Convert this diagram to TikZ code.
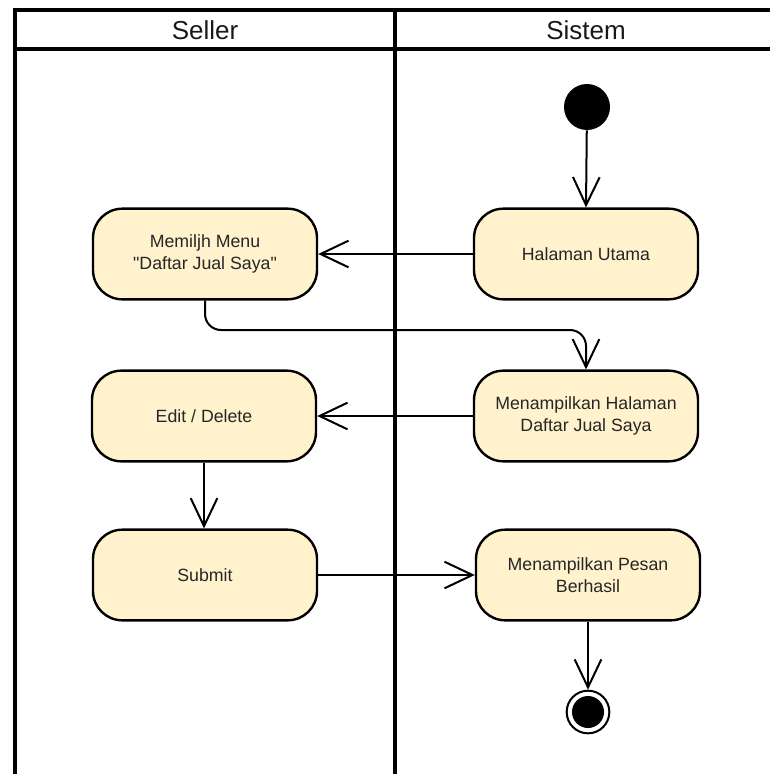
\documentclass[tikz,border=0pt]{standalone}
\usepackage{fontspec}
\setmainfont{Liberation Sans}
\usetikzlibrary{arrows.meta,calc}

\definecolor{actfill}{HTML}{FFF2CC}

\tikzset{
  lane/.style={line width=3pt, line cap=rect},
  lanetitle/.style={font=\fontsize{19.5pt}{22pt}\selectfont, text=black!90},
  activity/.style={draw=black, line width=1.8pt, fill=actfill, rounded corners=22pt,
    minimum width=168pt, minimum height=68pt, align=center, inner sep=2pt,
    font=\fontsize{13.3pt}{16pt}\selectfont, text=black!85},
  flow/.style={draw=black, line width=1.5pt,
    -{Straight Barb[length=21pt, width=20pt, line width=1.5pt]}},
  startnode/.style={circle, fill=black, minimum size=34.5pt, inner sep=0pt},
  endring/.style={circle, draw=black, line width=1.5pt, fill=white, minimum size=32pt, inner sep=0pt},
  endcore/.style={circle, fill=black, minimum size=24pt, inner sep=0pt},
}

\begin{document}
\begin{tikzpicture}[x=0.75pt, y=-0.75pt]
  \useasboundingbox (0,0) rectangle (770,774);

  % swimlane frame
  \draw[lane] (15,10) -- (772,10);
  \draw[lane] (15,49) -- (772,49);
  \draw[lane] (15,10) -- (15,776);
  \draw[lane] (395,10) -- (395,776);

  \node[lanetitle] (seller) at (205,30) {Seller};
  \node[lanetitle] (sistem) at (586,30) {Sistem};

  % activities
  \node[startnode] (start) at (587,107) {};
  \node[activity] (utama) at (586,254) {Halaman Utama};
  \node[activity] (menu) at (205,254) {Memiljh Menu\\\textquotedbl Daftar Jual Saya\textquotedbl};
  \node[activity] (tampil) at (586,416) {Menampilkan Halaman\\Daftar Jual Saya};
  \node[activity] (edit) at (204,416) {Edit / Delete};
  \node[activity] (submit) at (205,575) {Submit};
  \node[activity] (pesan) at (588,575) {Menampilkan Pesan\\Berhasil};
  \node[endring] (finish) at (588,712) {};
  \node[endcore] (finishcore) at (finish.center) {};

  \coordinate (bend) at (0,330);

  % control flow
  \draw[flow] (start) -- (utama.north);
  \draw[flow] (utama.west) -- (menu.east);
  \draw[flow, rounded corners=12pt] (menu.south) -- (menu.south |- bend) -| (tampil.north);
  \draw[flow] (tampil.west) -- (edit.east);
  \draw[flow] (edit.south) -- (edit.south |- submit.north);
  \draw[flow] (submit.east) -- (pesan.west);
  \draw[flow] (pesan.south) -- (finish.north);
\end{tikzpicture}
\end{document}
